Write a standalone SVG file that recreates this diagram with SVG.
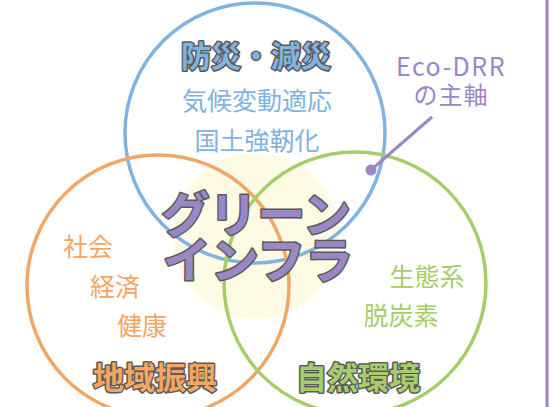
<svg xmlns="http://www.w3.org/2000/svg" width="550" height="407" viewBox="0 0 550 407">
<style>
.c{fill:none;stroke-width:3.5}
.t{font-family:"Noto Sans CJK JP","Noto Sans",sans-serif;text-anchor:middle}
.h{font-weight:bold;stroke:#5a5a5a;stroke-width:3;paint-order:stroke;stroke-linejoin:round}
.b{fill:#7fb3e0}.o{fill:#f3a663}.g{fill:#a7cd69}.p{fill:#9b86c6}
</style>
<rect width="550" height="407" fill="#fff"/>
<circle cx="256" cy="236" r="83" fill="#fdfbe3"/>
<line x1="547" y1="0" x2="547" y2="407" stroke="#9b86c6" stroke-width="3"/>
<g id="circles">
<circle id="blue" class="c" cx="255" cy="133" r="130" stroke="#7fb3e0"/>
<circle id="orange" class="c" cx="158" cy="286" r="131" stroke="#f3a663"/>
<circle id="green" class="c" cx="355" cy="283" r="131" stroke="#a7cd69"/>
</g>
<g id="connectors">
<line x1="432" y1="117" x2="371" y2="170" stroke="#9b86c6" stroke-width="3"/>
<circle cx="371" cy="170" r="5.5" fill="#9b86c6"/>
</g>
<g id="bosai">
<text class="t h b" x="256" y="67" font-size="30">防災・減災</text>
<text class="t b" x="257" y="110" font-size="25">気候変動適応</text>
<text class="t b" x="257" y="150" font-size="25">国土強靭化</text>
</g>
<g id="eco">
<text class="t p" x="451" y="76" font-size="25" letter-spacing="1.5">Eco-DRR</text>
<text class="t p" x="451" y="104" font-size="24" letter-spacing="1">の主軸</text>
</g>
<g id="green-infra">
<text class="t h p" x="256" y="232" font-size="48" stroke-width="4">グリーン</text>
<text class="t h p" x="258" y="278" font-size="48" stroke-width="4">インフラ</text>
</g>
<g id="chiiki">
<text class="t o" x="88" y="256" font-size="25">社会</text>
<text class="t o" x="115" y="296" font-size="25">経済</text>
<text class="t o" x="142" y="335" font-size="25">健康</text>
<text class="t h o" x="155" y="389" font-size="31">地域振興</text>
</g>
<g id="shizen">
<text class="t g" x="427" y="286" font-size="25">生態系</text>
<text class="t g" x="401" y="325" font-size="25">脱炭素</text>
<text class="t h g" x="358" y="389" font-size="31">自然環境</text>
</g>
</svg>
